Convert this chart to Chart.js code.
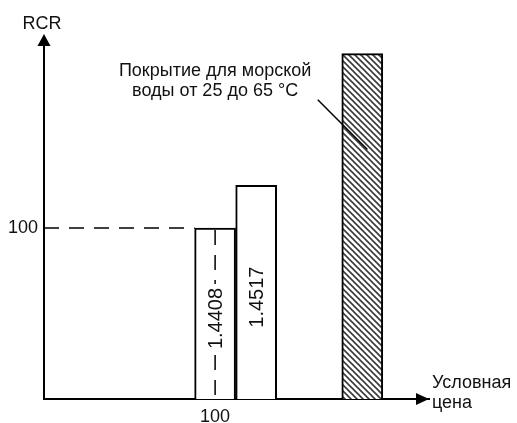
<!DOCTYPE html>
<html lang="ru">
<head>
<meta charset="utf-8">
<script src="https://cdn.jsdelivr.net/npm/chart.js@4.4.1/dist/chart.umd.min.js"></script>
<style>
  html, body { margin: 0; padding: 0; background: #fff; }
  #wrap { width: 517px; height: 423px; position: relative; }
</style>
</head>
<body>
<div id="wrap"><canvas id="rcr"></canvas></div>
<script>
// bars: conditional price (x) against RCR (y)
const barPrice = [100, 124, 186];
const barRcr = [100, 125, 202];
const barLabels = ['1.4408', '1.4517', ''];
const barHatched = [false, false, true];

const xTicks = [100];
const yTicks = [100];
const xMax = 225;
const yMax = 210;

// dashed guide to the point (100, 100)
const guidePoint = [100, 100];

// callout for the hatched bar
const noteLines = ['Покрытие для морской', 'воды от 25 до 65 °C'];
const notePos = [100, 189];
const noteLeader = [[160, 175], [189, 146]];

const yTitle = 'RCR';
const xTitle = ['Условная', 'цена'];

const FONT = '"Liberation Sans", Arial, sans-serif';

function makeHatch() {
  const c = document.createElement('canvas');
  c.width = 6; c.height = 6;
  const g = c.getContext('2d');
  g.fillStyle = '#fff';
  g.fillRect(0, 0, 6, 6);
  g.strokeStyle = '#3a3a3a';
  g.lineWidth = 1.6;
  for (let k = -1; k <= 1; k++) {
    g.beginPath();
    g.moveTo(k * 6 - 1, -1);
    g.lineTo(k * 6 + 7, 7);
    g.stroke();
  }
  return g.createPattern(c, 'repeat');
}

const hatch = makeHatch();

const decor = {
  id: 'decor',
  afterDatasetsDraw(chart) {
    const { ctx, chartArea: a, scales: { x, y } } = chart;
    const bars = chart.getDatasetMeta(0).data;
    ctx.save();

    // dashed guides
    const gx = x.getPixelForValue(guidePoint[0]);
    const gy = y.getPixelForValue(guidePoint[1]);
    ctx.strokeStyle = '#000';
    ctx.lineWidth = 1.5;
    ctx.setLineDash([15, 10]);
    ctx.beginPath();
    ctx.moveTo(a.left, gy);
    ctx.lineTo(bars[0].x - bars[0].width / 2, gy);
    ctx.stroke();
    ctx.beginPath();
    ctx.moveTo(gx, gy + 2);
    ctx.lineTo(gx, a.bottom);
    ctx.stroke();
    ctx.setLineDash([]);

    // vertical value labels inside bars
    ctx.font = '20px ' + FONT;
    ctx.textAlign = 'center';
    ctx.textBaseline = 'middle';
    bars.forEach((b, i) => {
      if (!barLabels[i]) return;
      const cy = (b.y + b.base) / 2 + 5;
      const w = ctx.measureText(barLabels[i]).width;
      ctx.save();
      ctx.translate(b.x, cy);
      ctx.rotate(-Math.PI / 2);
      ctx.fillStyle = '#fff';
      ctx.fillRect(-w / 2 - 4, -9, w + 8, 18);
      ctx.fillStyle = '#111';
      ctx.fillText(barLabels[i], 0, 1);
      ctx.restore();
    });

    // callout
    ctx.font = '18px ' + FONT;
    ctx.fillStyle = '#111';
    ctx.textBaseline = 'alphabetic';
    const nx = x.getPixelForValue(notePos[0]);
    const ny = y.getPixelForValue(notePos[1]);
    noteLines.forEach((t, i) => ctx.fillText(t, nx, ny + i * 20));
    ctx.strokeStyle = '#000';
    ctx.lineWidth = 1.5;
    ctx.beginPath();
    ctx.moveTo(x.getPixelForValue(noteLeader[0][0]), y.getPixelForValue(noteLeader[0][1]));
    ctx.lineTo(x.getPixelForValue(noteLeader[1][0]), y.getPixelForValue(noteLeader[1][1]));
    ctx.stroke();
    ctx.restore();
  },
  afterDraw(chart) {
    const { ctx, chartArea: a } = chart;
    ctx.save();
    ctx.fillStyle = '#000';
    // y arrow
    ctx.beginPath();
    ctx.moveTo(a.left, a.top - 6);
    ctx.lineTo(a.left - 6.5, a.top + 6);
    ctx.lineTo(a.left + 6.5, a.top + 6);
    ctx.closePath();
    ctx.fill();
    // x arrow
    ctx.beginPath();
    ctx.moveTo(a.right, a.bottom);
    ctx.lineTo(a.right - 13, a.bottom - 6);
    ctx.lineTo(a.right - 13, a.bottom + 6);
    ctx.closePath();
    ctx.fill();

    ctx.fillStyle = '#111';
    ctx.font = '18px ' + FONT;
    ctx.textBaseline = 'alphabetic';
    ctx.textAlign = 'center';
    ctx.fillText(yTitle, a.left - 2, a.top - 11);
    ctx.textAlign = 'left';
    ctx.fillText(xTitle[0], a.right + 3, a.bottom - 11);
    ctx.fillText(xTitle[1], a.right + 3, a.bottom + 9);
    ctx.restore();
  }
};

new Chart(document.getElementById('rcr'), {
  type: 'bar',
  data: {
    datasets: [{
      data: barPrice.map((p, i) => ({ x: p, y: barRcr[i] })),
      backgroundColor: barHatched.map(h => h ? hatch : '#fff'),
      borderColor: '#000',
      borderWidth: 2,
      borderSkipped: 'start',
      barThickness: 41
    }]
  },
  options: {
    responsive: true,
    maintainAspectRatio: false,
    animation: false,
    layout: { padding: { top: 40, right: 88, bottom: 0, left: 0 } },
    plugins: { legend: { display: false }, tooltip: { enabled: false } },
    scales: {
      x: {
        type: 'linear',
        min: 0,
        max: xMax,
        offset: false,
        z: 1,
        grid: { display: false, drawTicks: false },
        border: { color: '#000', width: 2 },
        afterBuildTicks: s => { s.ticks = xTicks.map(v => ({ value: v })); },
        afterFit: s => { s.height = 24; },
        ticks: { color: '#111', font: { size: 18, family: FONT }, padding: 7, maxRotation: 0 }
      },
      y: {
        min: 0,
        max: yMax,
        z: 1,
        grid: { display: false, drawTicks: false },
        border: { color: '#000', width: 2 },
        afterBuildTicks: s => { s.ticks = yTicks.map(v => ({ value: v })); },
        afterFit: s => { s.width = 44; },
        ticks: { color: '#111', font: { size: 18, family: FONT }, padding: 6 }
      }
    }
  },
  plugins: [decor]
});
</script>
</body>
</html>
